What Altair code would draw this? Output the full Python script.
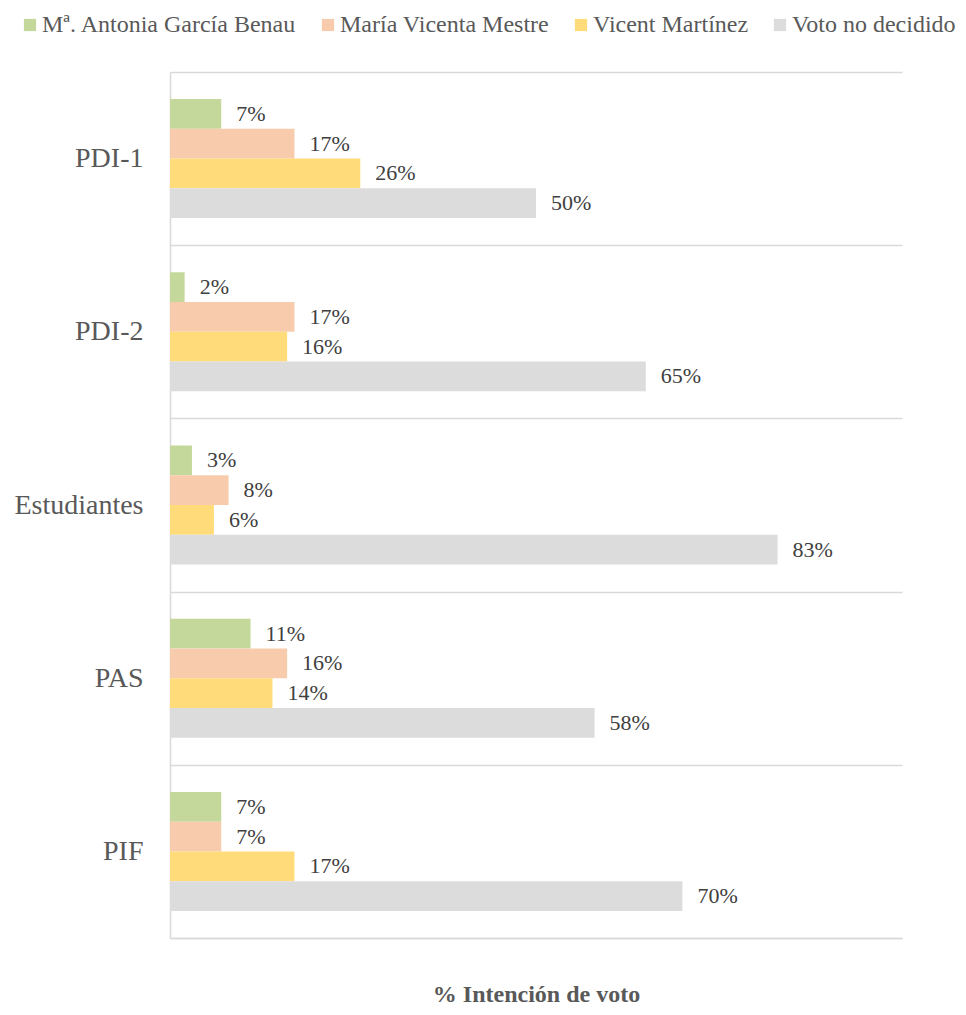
import altair as alt
import pandas as pd

categories = ["PDI-1", "PDI-2", "Estudiantes", "PAS", "PIF"]
series = ["Mª. Antonia García Benau", "María Vicenta Mestre", "Vicent Martínez", "Voto no decidido"]
garcia = [7, 2, 3, 11, 7]
mestre = [17, 17, 8, 16, 7]
martinez = [26, 16, 6, 14, 17]
no_decidido = [50, 65, 83, 58, 70]
colors = ["#C5D89C", "#F8CBAD", "#FFDB7A", "#DCDCDC"]

rows = []
for s, vals in zip(series, [garcia, mestre, martinez, no_decidido]):
    for c, v in zip(categories, vals):
        rows.append({"cat": c, "serie": s, "value": v})
df = pd.DataFrame(rows)

FONT = "Liberation Serif"
GRAY = "#D9D9D9"

y_enc = alt.Y(
    "cat:N",
    sort=categories,
    scale=alt.Scale(paddingInner=0, paddingOuter=0),
    axis=alt.Axis(
        title=None,
        ticks=False,
        grid=True,
        gridColor=GRAY,
        gridWidth=1.5,
        tickBand="extent",
        domain=True,
        domainColor=GRAY,
        domainWidth=1.5,
        labelFont=FONT,
        labelFontSize=28,
        labelColor="#595959",
        labelPadding=27,
    ),
)
yoff = alt.YOffset("serie:N", sort=series, scale=alt.Scale(paddingInner=0, paddingOuter=0.91))
x_enc = alt.X(
    "value:Q",
    scale=alt.Scale(domain=[0, 100], nice=False),
    axis=alt.Axis(
        title="% Intención de voto",
        labels=False,
        ticks=False,
        grid=False,
        domain=True,
        domainColor=GRAY,
        domainWidth=1.5,
        titleFont=FONT,
        titleFontSize=24,
        titleFontWeight="bold",
        titleColor="#595959",
        titlePadding=44,
    ),
)

bars = alt.Chart(df).mark_bar(cornerRadius=0).encode(
    y=y_enc,
    yOffset=yoff,
    x=x_enc,
    color=alt.Color(
        "serie:N",
        sort=series,
        scale=alt.Scale(domain=series, range=colors),
        legend=alt.Legend(
            title=None,
            orient="none",
            direction="horizontal",
            legendX=-152,
            legendY=-59,
            symbolType="square",
            symbolSize=150,
            symbolStrokeWidth=0,
            labelFont=FONT,
            labelFontSize=24,
            labelColor="#595959",
            labelOffset=0,
            columnPadding=19,
            labelLimit=400,
        ),
    ),
)

labels = alt.Chart(df).transform_calculate(
    label="datum.value + '%'"
).mark_text(
    align="left", baseline="middle", dx=15, font=FONT, fontSize=22, color="#404040"
).encode(
    y=alt.Y("cat:N", sort=categories),
    yOffset=alt.YOffset("serie:N", sort=series),
    x="value:Q",
    text="label:N",
)

chart = (
    alt.layer(bars, labels)
    .properties(
        width=732,
        height=866,
        autosize=alt.AutoSizeParams(type="none"),
        padding={"left": 162, "top": 64, "right": 56, "bottom": 69},
    )
    .configure_view(stroke=None)
)

chart.save("out.html", embed_options={"renderer": "svg", "actions": False})
